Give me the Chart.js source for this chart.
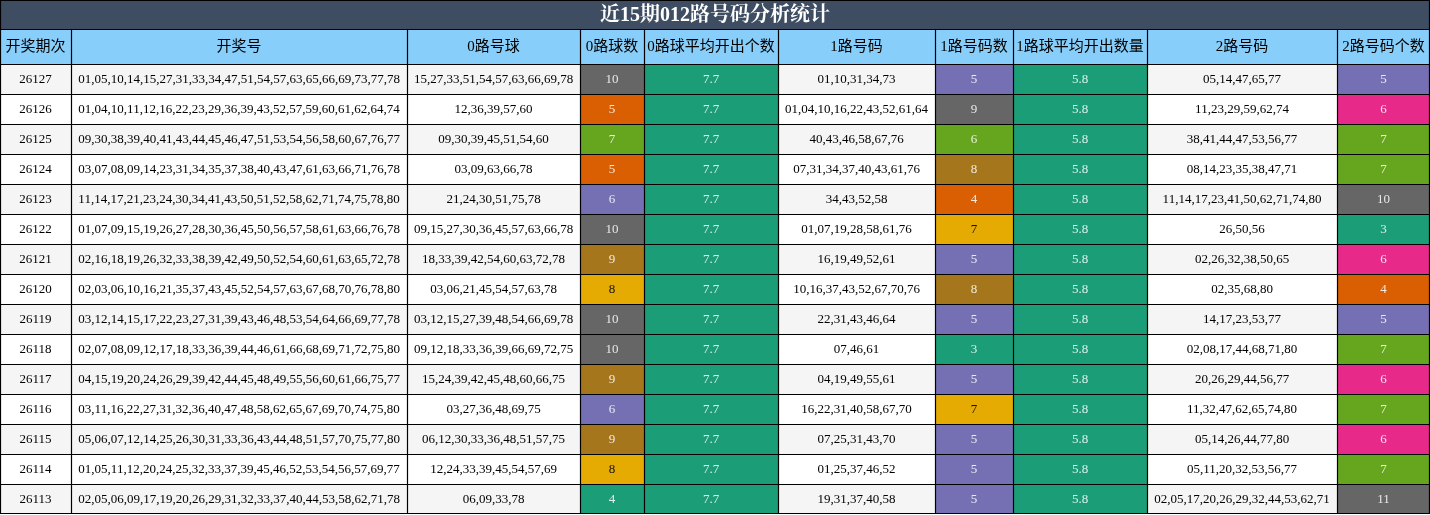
<!DOCTYPE html>
<html><head><meta charset="utf-8">
<script src="https://cdn.jsdelivr.net/npm/chart.js@4"></script>
<style>html,body{margin:0;padding:0;background:#fff}#w{width:1430px;height:515px}</style>
</head><body><div id="w"><canvas id="c" width="1430" height="515"></canvas></div>
<script>
const title = "近15期012路号码分析统计";
const headers = ["开奖期次","开奖号","0路号球","0路球数","0路球平均开出个数","1路号码","1路号码数","1路球平均开出数量","2路号码","2路号码个数"];
const periods = ["26127","26126","26125","26124","26123","26122","26121","26120","26119","26118","26117","26116","26115","26114","26113"];
const draws = [
"01,05,10,14,15,27,31,33,34,47,51,54,57,63,65,66,69,73,77,78",
"01,04,10,11,12,16,22,23,29,36,39,43,52,57,59,60,61,62,64,74",
"09,30,38,39,40,41,43,44,45,46,47,51,53,54,56,58,60,67,76,77",
"03,07,08,09,14,23,31,34,35,37,38,40,43,47,61,63,66,71,76,78",
"11,14,17,21,23,24,30,34,41,43,50,51,52,58,62,71,74,75,78,80",
"01,07,09,15,19,26,27,28,30,36,45,50,56,57,58,61,63,66,76,78",
"02,16,18,19,26,32,33,38,39,42,49,50,52,54,60,61,63,65,72,78",
"02,03,06,10,16,21,35,37,43,45,52,54,57,63,67,68,70,76,78,80",
"03,12,14,15,17,22,23,27,31,39,43,46,48,53,54,64,66,69,77,78",
"02,07,08,09,12,17,18,33,36,39,44,46,61,66,68,69,71,72,75,80",
"04,15,19,20,24,26,29,39,42,44,45,48,49,55,56,60,61,66,75,77",
"03,11,16,22,27,31,32,36,40,47,48,58,62,65,67,69,70,74,75,80",
"05,06,07,12,14,25,26,30,31,33,36,43,44,48,51,57,70,75,77,80",
"01,05,11,12,20,24,25,32,33,37,39,45,46,52,53,54,56,57,69,77",
"02,05,06,09,17,19,20,26,29,31,32,33,37,40,44,53,58,62,71,78"];
const road0 = ["15,27,33,51,54,57,63,66,69,78","12,36,39,57,60","09,30,39,45,51,54,60","03,09,63,66,78","21,24,30,51,75,78","09,15,27,30,36,45,57,63,66,78","18,33,39,42,54,60,63,72,78","03,06,21,45,54,57,63,78","03,12,15,27,39,48,54,66,69,78","09,12,18,33,36,39,66,69,72,75","15,24,39,42,45,48,60,66,75","03,27,36,48,69,75","06,12,30,33,36,48,51,57,75","12,24,33,39,45,54,57,69","06,09,33,78"];
const count0 = [10,5,7,5,6,10,9,8,10,10,9,6,9,8,4];
const avg0 = "7.7";
const road1 = ["01,10,31,34,73","01,04,10,16,22,43,52,61,64","40,43,46,58,67,76","07,31,34,37,40,43,61,76","34,43,52,58","01,07,19,28,58,61,76","16,19,49,52,61","10,16,37,43,52,67,70,76","22,31,43,46,64","07,46,61","04,19,49,55,61","16,22,31,40,58,67,70","07,25,31,43,70","01,25,37,46,52","19,31,37,40,58"];
const count1 = [5,9,6,8,4,7,5,8,5,3,5,7,5,5,5];
const avg1 = "5.8";
const road2 = ["05,14,47,65,77","11,23,29,59,62,74","38,41,44,47,53,56,77","08,14,23,35,38,47,71","11,14,17,23,41,50,62,71,74,80","26,50,56","02,26,32,38,50,65","02,35,68,80","14,17,23,53,77","02,08,17,44,68,71,80","20,26,29,44,56,77","11,32,47,62,65,74,80","05,14,26,44,77,80","05,11,20,32,53,56,77","02,05,17,20,26,29,32,44,53,62,71"];
const count2 = [5,6,7,7,10,3,6,4,5,7,6,7,6,7,11];

// style / layout
const colEdges = [0,71,407,580,644,778,935,1013,1147,1337,1430];
const titleH = 29, headH = 35, rowH = 30;
const pal0 = {10:"#666666",5:"#d95f02",7:"#66a61e",6:"#7570b3",9:"#a6761d",8:"#e6ab02",4:"#1b9e77"};
const pal1 = {5:"#7570b3",9:"#666666",6:"#66a61e",8:"#a6761d",4:"#d95f02",7:"#e6ab02",3:"#1b9e77"};
const pal2 = {5:"#7570b3",6:"#e7298a",7:"#66a61e",10:"#666666",3:"#1b9e77",4:"#d95f02",11:"#666666"};
const teal = "#1b9e77";

const columns = [
  {text:i=>periods[i]},{text:i=>draws[i]},{text:i=>road0[i]},
  {text:i=>String(count0[i]),bg:i=>pal0[count0[i]]},
  {text:()=>avg0,bg:()=>teal},
  {text:i=>road1[i]},
  {text:i=>String(count1[i]),bg:i=>pal1[count1[i]]},
  {text:()=>avg1,bg:()=>teal},
  {text:i=>road2[i]},
  {text:i=>String(count2[i]),bg:i=>pal2[count2[i]]}
];

const tablePlugin = {
  id:'table',
  afterDraw(chart){
    const ctx = chart.ctx, xs = chart.scales.x, ys = chart.scales.y;
    const X = v=>Math.round(xs.getPixelForValue(v)), Y = v=>Math.round(ys.getPixelForValue(v));
    const L = X(0), R = X(1430);
    ctx.save();
    ctx.textAlign='center'; ctx.textBaseline='middle';
    // title
    ctx.fillStyle="#3e4d62"; ctx.fillRect(L,Y(0),R-L,Y(titleH)-Y(0));
    ctx.fillStyle="#fff"; ctx.font="bold 20px 'Liberation Serif','Noto Serif CJK SC','Noto Sans CJK SC',serif";
    ctx.fillText(title,(L+R)/2,Y(titleH/2)+1);
    // header
    const h0=titleH,h1=titleH+headH;
    ctx.font="15px 'Liberation Serif','Noto Sans CJK SC',serif";
    headers.forEach((h,c)=>{
      const x0=X(colEdges[c]),x1=X(colEdges[c+1]);
      ctx.fillStyle="#87cefa"; ctx.fillRect(x0,Y(h0),x1-x0,Y(h1)-Y(h0));
      ctx.fillStyle="#000"; ctx.fillText(h,(x0+x1)/2,(Y(h0)+Y(h1))/2+1);
    });
    // body
    ctx.font="13px 'Liberation Serif',serif";
    periods.forEach((p,i)=>{
      const y0=Y(h1+i*rowH), y1=Y(h1+(i+1)*rowH);
      columns.forEach((col,c)=>{
        const x0=X(colEdges[c]),x1=X(colEdges[c+1]);
        const bg = col.bg ? col.bg(i) : (i%2===0?"#f5f5f5":"#ffffff");
        ctx.fillStyle=bg; ctx.fillRect(x0,y0,x1-x0,y1-y0);
        ctx.fillStyle = col.bg ? (bg==="#e6ab02"?"#111":"rgba(255,255,255,0.85)") : "#000";
        ctx.fillText(col.text(i),(x0+x1)/2,(y0+y1)/2+1);
      });
    });
    // grid lines
    ctx.strokeStyle="#000"; ctx.lineWidth=1.2;
    const top=Y(0), bot=Y(h1+periods.length*rowH)-1;
    ctx.beginPath();
    ctx.moveTo(L+0.5,top);ctx.lineTo(L+0.5,bot);ctx.moveTo(R-0.5,top);ctx.lineTo(R-0.5,bot);
    ctx.moveTo(L,top+0.5);ctx.lineTo(R,top+0.5);
    for(let c=1;c<colEdges.length-1;c++){const x=X(colEdges[c])+0.5;ctx.moveTo(x,Y(h0));ctx.lineTo(x,bot);}
    ctx.moveTo(L,Y(h0)+0.5);ctx.lineTo(R,Y(h0)+0.5);
    for(let i=0;i<=periods.length;i++){const y=(i===periods.length?bot:Y(h1+i*rowH))+0.5;ctx.moveTo(L,y);ctx.lineTo(R,y);}
    ctx.stroke();
    ctx.restore();
  }
};

new Chart(document.getElementById('c'),{
  type:'scatter',
  data:{datasets:[{data:[]}]},
  options:{
    responsive:false, animation:false,
    layout:{padding:0},
    plugins:{legend:{display:false},tooltip:{enabled:false},title:{display:false}},
    scales:{
      x:{type:'linear',min:0,max:1430,display:false},
      y:{type:'linear',min:0,max:515,reverse:true,display:false}
    }
  },
  plugins:[tablePlugin]
});
</script></body></html>
